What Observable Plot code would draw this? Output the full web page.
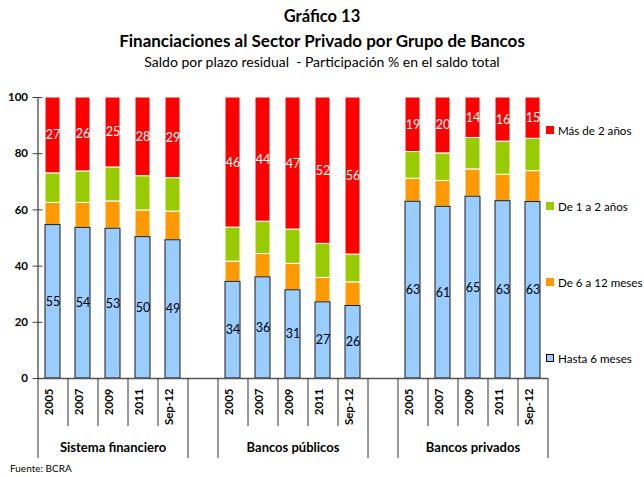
<!DOCTYPE html>
<html><head><meta charset="utf-8">
<script src="https://cdn.jsdelivr.net/npm/d3@7"></script>
<script src="https://cdn.jsdelivr.net/npm/@observablehq/plot@0.6"></script>
<style>
body{margin:0;background:#fff;font-family:Lato,"Open Sans",sans-serif;color:#000;}
#wrap{position:relative;width:644px;height:477px;overflow:hidden;background:#fff;}
.t{position:absolute;left:0;width:644px;text-align:center;white-space:nowrap;}
#chart{position:absolute;left:0;top:70px;}
.leg{position:absolute;left:546px;font-size:11.6px;white-space:nowrap;display:flex;align-items:center;height:16px;}
.leg span.sw{display:inline-block;width:8px;height:8px;margin-right:4px;box-sizing:border-box;}
</style></head><body>
<div id="wrap">
  <div class="t" style="top:5px;font-size:16.5px;font-weight:bold;line-height:22px;">Gráfico 13</div>
  <div class="t" style="top:29px;font-size:17px;font-weight:bold;line-height:24px;">Financiaciones al Sector Privado por Grupo de Bancos</div>
  <div class="t" style="top:52px;font-size:14px;line-height:20px;">Saldo por plazo residual&nbsp; - Participación % en el saldo total</div>
  <div style="position:absolute;left:11px;top:74px;font-size:11px;line-height:14px;">%</div>
  <div id="chart"></div>
  <div id="legend"></div>
  <div id="src" style="position:absolute;left:10px;top:461px;font-size:10px;line-height:14px;"></div>
</div>
<script>
const groups = ["Sistema financiero", "Bancos públicos", "Bancos privados"];
const periods = ["2005", "2007", "2009", "2011", "Sep-12"];
const series = ["Hasta 6 meses", "De 6 a 12 meses", "De 1 a 2 años", "Más de 2 años"];
const colors = ["#99CCFF", "#FF9900", "#99CC00", "#FF0000"];
// values per group (rows) and period (columns)
const hasta6 = [[54.6, 53.6, 53.3, 50.3, 49.2], [34.4, 36.0, 31.4, 27.1, 25.8], [62.9, 61.1, 64.7, 63.1, 62.8]];
const de6a12 = [[7.9, 8.9, 9.7, 9.5, 10.2], [7.2, 8.3, 9.4, 8.7, 8.4], [8.2, 9.2, 9.7, 9.4, 11.0]];
const de1a2 = [[10.5, 11.2, 12.1, 12.2, 11.9], [12.1, 11.5, 12.2, 12.1, 9.9], [9.5, 9.8, 11.2, 11.8, 11.5]];
const mas2 = [[27.0, 26.3, 24.9, 28.0, 28.7], [46.3, 44.2, 47.0, 52.1, 55.9], [19.4, 19.9, 14.4, 15.7, 14.7]];
const yTicks = [0, 20, 40, 60, 80, 100];
const source = "Fuente: BCRA";

document.getElementById("src").textContent = source;
const values = [hasta6, de6a12, de1a2, mas2];
const slots = [];
groups.forEach((g, gi) => { if (gi > 0) slots.push("gap" + gi); periods.forEach(p => slots.push(g + "|" + p)); });
const rows = [];
groups.forEach((g, gi) => periods.forEach((p, pi) => series.forEach((s, si) =>
  rows.push({slot: g + "|" + p, group: g, period: p, series: s, value: values[si][gi][pi]}))));
const labels = [];
groups.forEach(g => periods.forEach(p => labels.push({slot: g + "|" + p, period: p})));

const W = 644, H = 407, ML = 37.5, MR = 96.5, MT = 27, MB = 99;
const plotW = W - ML - MR;
const step = plotW / slots.length;
const plotH = H - MT - MB;
// boundaries: left edge of each slot, plus the right edge of the last
const bounds = slots.map((s, i) => ({slot: s, side: -1,
  long: s.startsWith("gap") || s.endsWith("|" + periods[0])}));
bounds.push({slot: slots[slots.length - 1], side: 1, long: true});

const chart = Plot.plot({
  width: W, height: H, marginLeft: ML, marginRight: MR, marginTop: MT, marginBottom: MB,
  style: {fontFamily: "Lato, 'Open Sans', sans-serif", background: "white", overflow: "visible", color: "#000"},
  x: {domain: slots, paddingInner: 0.5, paddingOuter: 0.25, axis: null},
  y: {domain: [0, 100], axis: null},
  color: {domain: series, range: colors},
  marks: [
    Plot.barY(rows, Plot.stackY({x: "slot", y: "value", fill: "series", stroke: "white", strokeWidth: 1})),
    Plot.barY(rows.filter(d => d.series === series[0]), {x: "slot", y: "value", fill: colors[0], stroke: "#1a1a1a", strokeWidth: 1}),
    Plot.text(rows, Plot.stackY({x: "slot", y: "value", z: "series",
      text: d => d.series === series[0] ? String(Math.round(d.value)) : "", fill: "#000", fontSize: 12.5})),
    Plot.text(rows, Plot.stackY({x: "slot", y: "value", z: "series",
      text: d => d.series === series[3] ? String(Math.round(d.value)) : "", fill: "white", fontSize: 12.5})),
    // y axis line and ticks
    Plot.ruleX([slots[0]], {x: d => d, dx: -step / 2, stroke: "#888", strokeWidth: 2}),
    Plot.ruleY(yTicks, {y: d => d, insetLeft: -5, insetRight: plotW - 5, stroke: "#444", strokeWidth: 1}),
    Plot.axisY({ticks: yTicks, tickSize: 0, tickPadding: 10, fontWeight: "bold", fontSize: 11.5, label: null}),
    // x axis line
    Plot.ruleY([0], {stroke: "#555", strokeWidth: 1.3}),
    // category dividers
    Plot.ruleX(bounds.filter(d => !d.long), {x: "slot", dx: -step / 2, insetTop: plotH, insetBottom: -48, stroke: "#333", strokeWidth: 1}),
    Plot.ruleX(bounds.filter(d => d.long && d.side < 0), {x: "slot", dx: -step / 2, insetTop: plotH, insetBottom: -80, stroke: "#333", strokeWidth: 1}),
    Plot.ruleX(bounds.filter(d => d.long && d.side > 0), {x: "slot", dx: step / 2, insetTop: plotH, insetBottom: -80, stroke: "#333", strokeWidth: 1}),
    // period labels
    Plot.text(labels, {x: "slot", text: "period", frameAnchor: "bottom", rotate: -90, textAnchor: "end", dy: 10,
      fontWeight: "bold", fontSize: 11.5}),
    // group labels
    Plot.text(groups, {x: d => d + "|" + periods[2], text: d => d, frameAnchor: "bottom", dy: 73,
      fontWeight: "bold", fontSize: 13})
  ]
});
document.getElementById("chart").appendChild(chart);

// legend (top to bottom: reverse series order)
const legY = [130, 206, 282, 358];
const leg = document.getElementById("legend");
series.slice().reverse().forEach((s, i) => {
  const idx = series.indexOf(s);
  const div = document.createElement("div");
  div.className = "leg";
  div.style.top = (legY[i] - 8) + "px";
  const sw = document.createElement("span");
  sw.className = "sw";
  sw.style.background = colors[idx];
  if (idx === 0) sw.style.border = "1px solid #000";
  div.appendChild(sw);
  div.appendChild(document.createTextNode(s));
  leg.appendChild(div);
});
</script>
</body></html>
